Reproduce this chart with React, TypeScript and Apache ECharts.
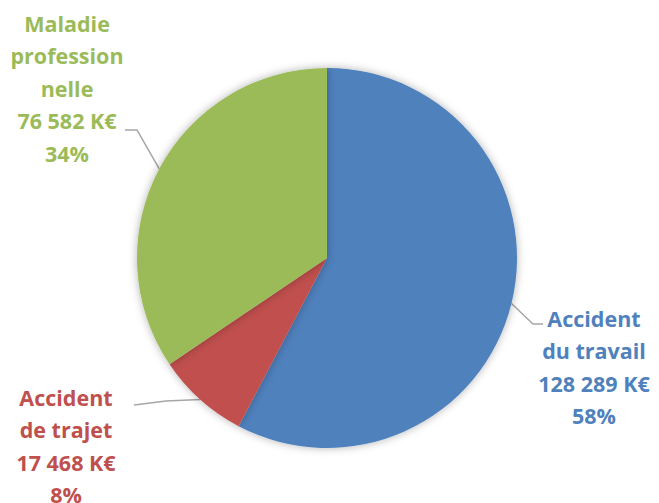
import React, { useEffect, useRef } from "react";
import * as echarts from "echarts";

const categories = ["Accident\ndu travail", "Accident\nde trajet", "Maladie\nprofession\nnelle"];
const values = [128289, 17468, 76582];
const colors = ["#4F81BD", "#C0504D", "#9BBB59"];

// label layout (center of text block, line elbow and end)
const labelLayouts = [
  { x: 594, y: 367, elbow: [533, 324], end: [543, 324] },
  { x: 66, y: 446, elbow: [166, 401], end: [134, 405] },
  { x: 67, y: 88, elbow: [137, 130], end: [125, 130] },
];

const fmt = (v: number) => String(v).replace(/\B(?=(\d{3})+(?!\d))/g, " ");

export default function App() {
  const ref = useRef<HTMLDivElement>(null);
  useEffect(() => {
    if (!ref.current) return;
    const chart = echarts.init(ref.current, null, { renderer: "svg" });
    chart.setOption({
      animation: false,
      backgroundColor: "#ffffff",
      series: [
        {
          type: "pie",
          center: [327, 258],
          radius: 190,
          startAngle: 90,
          clockwise: true,
          avoidLabelOverlap: false,
          data: categories.map((c, i) => ({
            name: c,
            value: values[i],
            itemStyle: { color: colors[i] },
            label: { color: colors[i] },
          })),
          itemStyle: {
            shadowBlur: 8,
            shadowColor: "rgba(0,0,0,0.3)",
          },
          label: {
            show: true,
            fontFamily: "Open Sans",
            fontWeight: "bold",
            fontSize: 21.5,
            lineHeight: 32.5,
            align: "center",
            formatter: (p: any) => `${p.name}\n${fmt(p.value)} K€\n${Math.round(p.percent)}%`,
          },
          labelLine: {
            show: true,
            lineStyle: { color: "#A6A6A6", width: 1.5 },
          },
          labelLayout: (params: any) => {
            const l = labelLayouts[params.dataIndex];
            const start = params.labelLinePoints && params.labelLinePoints[0];
            const out: any = { x: l.x, y: l.y, align: "center", verticalAlign: "middle" };
            if (start) {
              out.labelLinePoints = [start, l.elbow, l.end];
            }
            return out;
          },
        },
      ],
    });
    return () => chart.dispose();
  }, []);
  return (
    <div
      ref={ref}
      style={{ position: "absolute", left: 0, top: 0, width: 659, height: 503 }}
    />
  );
}
